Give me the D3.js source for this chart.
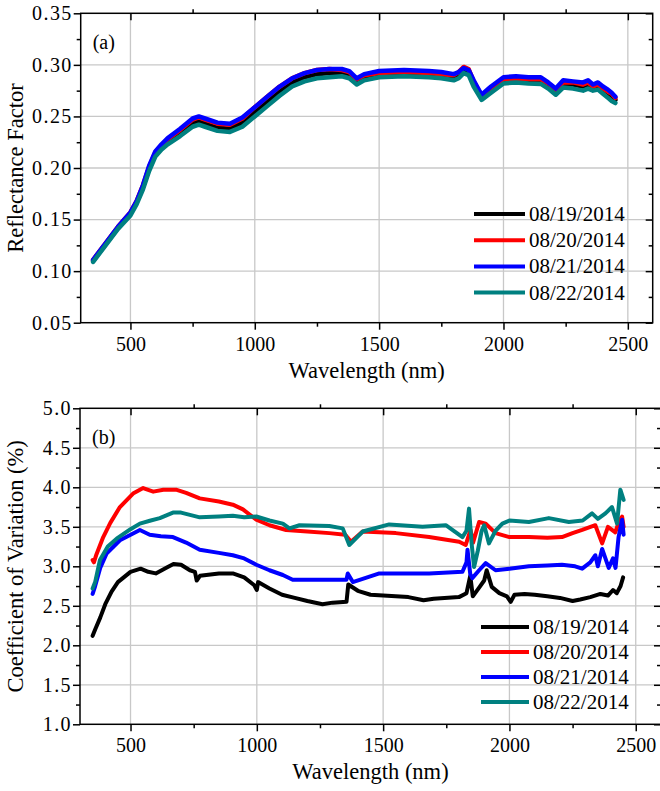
<!DOCTYPE html>
<html>
<head>
<meta charset="utf-8">
<script src="https://cdn.jsdelivr.net/npm/d3@7"></script>
<style>
  body { margin: 0; background: #fff; }
  svg text { font-family: "Liberation Serif", "Times New Roman", serif; fill: #000; }
</style>
</head>
<body>
<script>
// series labels and colours
var dates = ["08/19/2014", "08/20/2014", "08/21/2014", "08/22/2014"];
var colors = ["#000000", "#ff0000", "#0000ff", "#008080"];

// (a) reflectance factor
var wlA = [350, 400, 450, 500, 525, 550, 575, 600, 625, 650,
  700, 750, 775, 800, 850, 900, 950, 1000, 1050, 1100,
  1150, 1200, 1250, 1300, 1350, 1380, 1410, 1440, 1500, 1600,
  1700, 1750, 1800, 1820, 1840, 1860, 1880, 1912, 1950, 2000,
  2050, 2100, 2150, 2180, 2210, 2240, 2280, 2320, 2340, 2360,
  2380, 2400, 2420, 2435, 2450];
var refl0819 = [.110, .126, .142, .156, .167, .181, .199, .213, .220, .226,
  .234, .244, .245, .243, .239, .238, .244, .254, .264, .274,
  .283, .288, .291, .292, .292, .290, .284, .288, .290, .291,
  .290, .289, .287, .289, .294, .292, .281, .268, .276, .285,
  .286, .285, .285, .280, .274, .281, .281, .279, .281, .278,
  .280, .276, .273, .270, .266];
var refl0820 = [.111, .127, .143, .157, .168, .183, .201, .215, .222, .228,
  .237, .247, .249, .247, .243, .242, .248, .259, .269, .279,
  .287, .292, .295, .296, .295, .293, .286, .290, .292, .293,
  .292, .291, .290, .293, .298, .296, .284, .270, .278, .286,
  .2865, .286, .286, .282, .276, .283, .283, .281, .283, .279,
  .281, .277, .274, .272, .268];
var refl0821 = [.111, .127, .143, .157, .168, .183, .202, .216, .223, .229,
  .238, .248, .250, .248, .244, .243, .249, .259, .269, .279,
  .287, .292, .295, .296, .296, .294, .287, .291, .294, .295,
  .294, .293, .291, .293, .297, .295, .285, .271, .279, .288,
  .289, .288, .288, .283, .277, .285, .284, .283, .285, .281,
  .283, .279, .276, .273, .269];
var refl0822 = [.109, .125, .141, .154, .165, .179, .197, .211, .218, .223,
  .231, .240, .242, .240, .236, .235, .240, .250, .260, .270,
  .279, .284, .287, .288, .289, .287, .281, .285, .288, .289,
  .288, .287, .285, .287, .292, .290, .279, .266, .273, .282,
  .283, .282, .2815, .277, .271, .278, .277, .275, .277, .275,
  .276, .272, .268, .265, .263];

// (b) coefficient of variation (%), each date has its own sample points
var wlB0819 = [350, 360, 380, 400, 425, 450, 500, 540, 570, 600, 640, 670, 700, 735, 755, 762, 775,
  850, 905, 950, 990, 1000, 1005, 1050, 1100, 1150, 1200, 1260, 1300, 1355, 1362, 1400, 1450,
  1500, 1600, 1660, 1700, 1800, 1830, 1845, 1855, 1880, 1900, 1910, 1930, 1960, 1990, 2005,
  2020, 2060, 2100, 2150, 2200, 2250, 2280, 2320, 2360, 2390, 2410, 2425, 2440, 2450];
var cv0819 = [2.12, 2.20, 2.35, 2.52, 2.68, 2.80, 2.93, 2.97, 2.93, 2.91, 2.98, 3.03, 3.02, 2.95, 2.93, 2.82, 2.88,
  2.91, 2.91, 2.86, 2.76, 2.70, 2.80, 2.72, 2.64, 2.60, 2.56, 2.52, 2.54, 2.55, 2.77, 2.69, 2.64,
  2.63, 2.61, 2.57, 2.59, 2.61, 2.66, 2.88, 2.62, 2.73, 2.82, 2.95, 2.74, 2.66, 2.62, 2.55,
  2.64, 2.65, 2.64, 2.62, 2.60, 2.56, 2.58, 2.61, 2.65, 2.63, 2.70, 2.66, 2.75, 2.86];
var wlB0820 = [350, 355, 365, 392, 420, 458, 510, 550, 590, 630, 680, 720, 774, 850, 905, 945, 998,
  1050, 1116, 1200, 1287, 1350, 1373, 1419, 1550, 1682, 1801, 1827, 1846, 1856, 1880, 1906,
  1945, 2000, 2077, 2150, 2208, 2250, 2288, 2340, 2367, 2390, 2419, 2435, 2446, 2452];
var cv0820 = [3.08, 3.05, 3.15, 3.37, 3.55, 3.75, 3.92, 3.99, 3.945, 3.97, 3.97, 3.93, 3.86, 3.82, 3.78, 3.72, 3.59,
  3.52, 3.46, 3.44, 3.42, 3.40, 3.31, 3.44, 3.42, 3.37, 3.31, 3.27, 3.46, 3.30, 3.56, 3.54,
  3.42, 3.37, 3.37, 3.36, 3.37, 3.42, 3.46, 3.52, 3.29, 3.50, 3.43, 3.58, 3.63, 3.50];
var wlB0821 = [350, 360, 380, 405, 458, 537, 576, 620, 668, 720, 774, 850, 905, 950, 998, 1050,
  1103, 1142, 1200, 1287, 1355, 1360, 1380, 1485, 1682, 1814, 1830, 1834, 1845, 1853, 1880,
  1906, 1945, 2000, 2077, 2150, 2208, 2260, 2288, 2320, 2340, 2350, 2367, 2393, 2410, 2420,
  2432, 2446, 2452];
var cv0821 = [2.65, 2.75, 2.98, 3.16, 3.33, 3.46, 3.40, 3.38, 3.37, 3.30, 3.21, 3.17, 3.14, 3.10, 3.02, 2.95,
  2.89, 2.83, 2.83, 2.83, 2.83, 2.91, 2.80, 2.91, 2.91, 2.93, 3.05, 3.21, 2.90, 2.85, 2.95,
  3.04, 2.95, 2.97, 3.00, 3.01, 3.02, 3.00, 2.97, 3.05, 3.14, 3.00, 3.22, 2.98, 3.10, 2.98,
  3.37, 3.59, 3.40];
var wlB0822 = [350, 360, 379, 410, 445, 500, 537, 580, 616, 668, 700, 774, 850, 905, 950, 998,
  1050, 1103, 1129, 1169, 1287, 1340, 1366, 1419, 1524, 1656, 1748, 1814, 1830, 1840, 1850,
  1860, 1875, 1890, 1900, 1919, 1945, 1972, 2000, 2077, 2156, 2235, 2290, 2327, 2350, 2380,
  2406, 2426, 2439, 2446, 2452];
var cv0822 = [2.72, 2.80, 3.08, 3.25, 3.35, 3.47, 3.54, 3.58, 3.61, 3.68, 3.68, 3.62, 3.63, 3.64, 3.62, 3.63,
  3.58, 3.54, 3.48, 3.52, 3.51, 3.48, 3.27, 3.44, 3.53, 3.50, 3.52, 3.37, 3.45, 3.73, 3.30,
  2.99, 3.20, 3.45, 3.52, 3.29, 3.45, 3.54, 3.58, 3.56, 3.61, 3.56, 3.58, 3.67, 3.60, 3.67,
  3.75, 3.54, 3.97, 3.90, 3.84];

// axis ticks
var xTicks = [500, 1000, 1500, 2000, 2500];
var xMinor = [750, 1250, 1750, 2250];
var yTicksA = [0.05, 0.10, 0.15, 0.20, 0.25, 0.30, 0.35];
var yMinorA = [0.075, 0.125, 0.175, 0.225, 0.275, 0.325];
var yTicksB = [1.0, 1.5, 2.0, 2.5, 3.0, 3.5, 4.0, 4.5, 5.0];
var yMinorB = [1.25, 1.75, 2.25, 2.75, 3.25, 3.75, 4.25, 4.75];

var svg = d3.select("body").append("svg")
  .attr("width", 660)
  .attr("height", 791);

function zip(xs, ys) {
  return xs.map(function (x, i) { return [x, ys[i]]; });
}

/**
* panel -> draws one framed plot with grid, mirrored ticks, lines and legend
*/
function panel(p) {
  var x = d3.scaleLinear().domain([300, 2600]).range([p.left, p.right]);
  var y = d3.scaleLinear().domain(p.yDomain).range([p.bottom, p.top]);
  var g = svg.append("g");

  // grid
  g.selectAll("line.gx").data(xTicks).enter().append("line")
    .attr("x1", x).attr("x2", x)
    .attr("y1", p.top).attr("y2", p.bottom)
    .attr("stroke", "#c8c8c8").attr("stroke-width", 1.3);
  g.selectAll("line.gy").data(p.yTicks.slice(1, -1)).enter().append("line")
    .attr("x1", p.left).attr("x2", p.right)
    .attr("y1", y).attr("y2", y)
    .attr("stroke", "#c8c8c8").attr("stroke-width", 1.3);

  // data lines
  var line = d3.line().x(function (d) { return x(d[0]); }).y(function (d) { return y(d[1]); });
  g.selectAll("path.s").data(p.series).enter().append("path")
    .attr("d", line)
    .attr("fill", "none")
    .attr("stroke", function (d, i) { return colors[i]; })
    .attr("stroke-width", p.lw)
    .attr("stroke-linejoin", "round")
    .attr("stroke-linecap", "round");

  // frame
  g.append("rect")
    .attr("x", p.left).attr("y", p.top)
    .attr("width", p.right - p.left).attr("height", p.bottom - p.top)
    .attr("fill", "none").attr("stroke", "#000").attr("stroke-width", 1.5);

  function ax(gen, tx, ty) {
    var a = g.append("g").attr("transform", "translate(" + tx + "," + ty + ")").call(gen);
    a.select(".domain").remove();
    a.selectAll("line").attr("stroke-width", 1.5);
    return a;
  }

  var bottom = ax(d3.axisBottom(x).tickValues(xTicks).tickSize(7).tickPadding(7).tickFormat(d3.format("d")), 0, p.bottom);
  bottom.selectAll("text").attr("font-size", 20).attr("font-family", "Liberation Serif");
  ax(d3.axisBottom(x).tickValues(xMinor).tickSize(4).tickFormat(""), 0, p.bottom);
  ax(d3.axisTop(x).tickValues(xTicks).tickSize(-7).tickFormat(""), 0, p.top);
  ax(d3.axisTop(x).tickValues(xMinor).tickSize(4).tickFormat(""), 0, p.top);

  var left = ax(d3.axisLeft(y).tickValues(p.yTicks).tickSize(7).tickPadding(1).tickFormat(d3.format(p.yFmt)), p.left, 0);
  left.selectAll("text").attr("font-size", 20).attr("font-family", "Liberation Serif")
    .attr("letter-spacing", 1.4);
  ax(d3.axisLeft(y).tickValues(p.yMinor).tickSize(4).tickFormat(""), p.left, 0);
  ax(d3.axisRight(y).tickValues(p.yTicks).tickSize(-7).tickFormat(""), p.right, 0);
  ax(d3.axisRight(y).tickValues(p.yMinor).tickSize(-4).tickFormat(""), p.right, 0);

  // titles
  g.append("text")
    .attr("x", (p.left + p.right) / 2).attr("y", p.bottom + 55)
    .attr("text-anchor", "middle").attr("font-size", 22.5)
    .text("Wavelength (nm)");
  g.append("text")
    .attr("transform", "translate(" + p.yTitleX + "," + (p.top + p.bottom) / 2 + ") rotate(-90)")
    .attr("text-anchor", "middle").attr("font-size", 22.5)
    .text(p.yTitle);
  g.append("text")
    .attr("x", p.left + 12).attr("y", p.top + 36)
    .attr("font-size", 20)
    .text(p.label);

  // legend
  var lg = g.selectAll("g.lg").data(dates).enter().append("g")
    .attr("transform", function (d, i) { return "translate(0," + (p.legY + i * p.legDy) + ")"; });
  lg.append("line")
    .attr("x1", p.legX).attr("x2", p.legX + p.legW)
    .attr("stroke", function (d, i) { return colors[i]; })
    .attr("stroke-width", 4);
  lg.append("text")
    .attr("x", p.legX + p.legW + 4).attr("y", 7)
    .attr("font-size", 21)
    .text(function (d) { return d; });
}

panel({
  left: 80.7, right: 652.7, top: 13.3, bottom: 322.7,
  yDomain: [0.05, 0.35], yTicks: yTicksA, yMinor: yMinorA, yFmt: ".2f",
  yTitle: "Reflectance Factor", yTitleX: 23, label: "(a)", lw: 4.5,
  series: [zip(wlA, refl0819), zip(wlA, refl0820), zip(wlA, refl0821), zip(wlA, refl0822)],
  legX: 474, legW: 51, legY: 214, legDy: 26.2
});

panel({
  left: 80, right: 661, top: 408.3, bottom: 724.3,
  yDomain: [1.0, 5.0], yTicks: yTicksB, yMinor: yMinorB, yFmt: ".1f",
  yTitle: "Coefficient of Variation (%)", yTitleX: 23, label: "(b)", lw: 4,
  series: [zip(wlB0819, cv0819), zip(wlB0820, cv0820), zip(wlB0821, cv0821), zip(wlB0822, cv0822)],
  legX: 481, legW: 48, legY: 627, legDy: 25
});
</script>
</body>
</html>
